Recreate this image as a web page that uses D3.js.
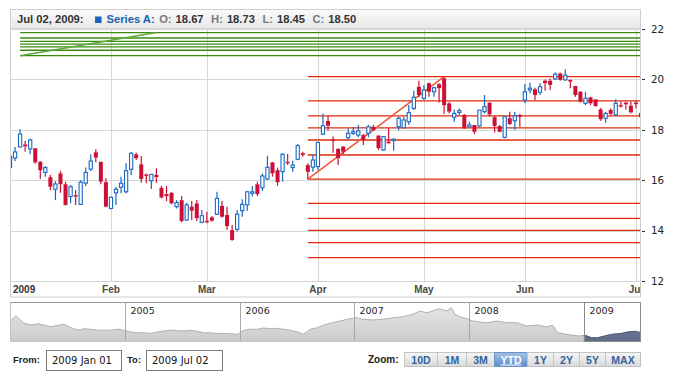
<!DOCTYPE html>
<html><head><meta charset="utf-8">
<script src="https://cdn.jsdelivr.net/npm/d3@7/dist/d3.min.js"></script>
<style>body{margin:0;background:#fff}svg{display:block}</style>
</head><body>
<svg id="c" width="700" height="380"></svg>
<script>
// ---------- DATA ----------
const seriesName = "Series A";
const firstDay = "2009-01-01", lastDay = "2009-07-02";
const holidays = ["2009-01-01","2009-01-19","2009-02-16","2009-04-10","2009-05-25"];
const open  = [16.50,16.88,17.32,17.42,17.24,17.27,16.73,16.31,16.12,15.64,16.27,15.84,15.35,15.41,15.04,15.88,16.44,17.11,16.73,15.92,
  14.88,15.50,15.72,15.54,16.43,17.03,16.63,16.23,15.98,16.21,15.70,15.45,15.50,14.95,15.21,14.42,14.95,15.08,14.33,14.39,
  14.53,14.65,14.98,14.62,14.02,14.05,14.79,15.02,15.48,15.84,15.70,16.05,16.71,16.40,16.34,16.73,16.50,16.83,17.07,16.60,
  16.52,16.54,17.83,18.35,17.62,17.24,17.33,17.69,17.86,17.79,17.79,17.86,18.12,17.77,17.20,17.53,17.57,18.12,18.08,18.32,
  18.85,19.71,19.25,19.85,19.51,19.81,20.04,19.05,18.50,18.69,18.59,18.12,18.19,18.15,18.72,19.08,18.50,18.15,17.70,18.46,
  18.36,18.59,19.18,19.58,19.61,19.49,19.95,19.95,20.02,20.24,19.98,19.98,19.74,19.51,19.05,19.29,19.21,18.81,18.46,18.79,
  18.59,18.98,19.08,18.96,19.08,18.67];
const high  = [17.00,17.32,18.02,17.57,17.64,17.27,16.76,16.56,16.21,15.96,16.37,15.94,15.81,15.61,16.01,16.50,17.03,17.23,16.73,16.08,
  15.35,15.74,16.14,16.67,17.11,17.09,16.96,16.27,16.25,16.47,15.78,15.77,15.53,15.21,15.37,15.11,15.17,15.21,14.82,14.75,
  14.58,15.54,15.17,14.95,14.22,14.82,15.24,15.57,15.77,15.94,16.27,16.97,16.73,16.50,17.07,17.04,16.77,17.44,17.13,16.67,
  17.00,17.53,18.65,18.55,17.73,17.27,17.36,18.06,18.10,18.19,17.83,18.19,18.19,17.79,17.75,18.06,17.66,18.52,18.52,18.98,
  19.55,19.95,19.78,19.87,19.71,19.85,20.11,19.10,18.81,18.85,18.63,18.32,18.19,18.78,19.38,19.08,18.55,18.19,18.55,18.72,
  18.72,18.63,19.82,19.87,19.67,19.85,20.00,20.04,20.27,20.27,20.40,20.00,19.74,19.54,19.51,19.31,19.21,18.87,18.72,18.85,
  19.21,19.12,19.12,19.12,19.16,18.73];
const low   = [16.40,16.76,17.30,17.13,17.03,16.65,16.05,16.14,15.61,15.21,15.50,14.99,15.08,15.02,15.02,15.77,16.37,16.71,15.84,14.93,
  14.85,15.02,15.48,15.48,16.21,16.80,15.90,15.88,15.65,15.90,15.28,15.17,15.04,14.88,14.33,14.39,14.42,14.38,14.29,14.29,
  14.35,14.62,14.51,14.02,13.60,13.96,14.55,14.79,15.35,15.37,15.57,16.01,16.14,15.78,15.94,16.60,16.34,16.79,16.93,16.04,
  16.34,16.40,17.79,17.96,17.09,16.60,17.04,17.60,17.79,17.70,17.40,17.70,17.95,17.20,17.17,17.46,17.17,17.99,18.06,18.19,
  18.79,19.29,19.18,19.31,19.31,19.08,18.63,18.65,18.32,18.59,18.03,18.12,17.83,18.12,18.65,18.52,17.89,17.90,17.66,18.19,
  17.99,18.12,19.05,19.45,19.18,19.38,19.55,19.58,19.98,19.95,19.95,19.65,19.31,19.08,18.98,18.98,18.92,18.36,18.28,18.59,
  18.55,18.88,18.81,18.65,18.85,18.45];
const close = [16.95,17.12,17.83,17.34,17.60,16.71,16.40,16.50,15.74,15.85,15.84,15.02,15.74,15.37,15.92,16.31,16.76,16.89,15.94,14.95,
  15.32,15.64,15.88,16.38,17.07,16.87,16.05,16.18,16.23,16.12,15.31,15.37,15.08,15.11,14.38,15.02,14.79,14.49,14.59,14.33,
  14.39,15.28,14.55,14.18,13.63,14.65,15.04,15.54,15.54,15.45,16.17,16.51,16.27,15.92,17.03,16.67,16.60,17.37,17.00,16.33,
  16.80,17.50,18.16,18.16,17.57,16.87,17.13,17.86,17.92,17.96,17.60,18.12,17.99,17.27,17.73,17.46,17.63,18.46,18.39,18.68,
  19.29,19.38,19.58,19.51,19.67,19.65,18.98,18.72,18.65,18.76,18.06,18.19,17.92,18.78,18.92,18.61,18.15,17.92,18.52,18.23,
  18.55,18.52,19.51,19.65,19.38,19.71,19.85,19.78,20.21,19.98,20.17,19.91,19.38,19.12,19.25,19.05,18.94,18.42,18.65,18.63,
  19.05,18.92,19.01,18.69,19.02,18.50];
const monthLabels = ["2009","Feb","Mar","Apr","May","Jun","Jul"];
const yTicks = [12,14,16,18,20,22];
const fibLevels = [0,0.236,0.382,0.5,0.618,0.764,1,1.236,1.382,1.5,1.618,1.764];
const redFibDates = ["2009-03-30","2009-05-07"], redFibPrices = [16.04,20.11];
const greenFibDates = ["2009-01-06","2009-02-13"], greenFibPrices = [20.94,21.86];
const greenFibLevels = [0,0.236,0.382,0.5,0.618,0.764,1];
const scrollDates = ["2004-01-02","2004-01-20","2004-01-30","2004-02-14","2004-03-08","2004-03-30","2004-04-18","2004-05-11","2004-06-02","2004-06-21",
  "2004-07-13","2004-08-04","2004-08-24","2004-09-15","2004-10-07","2004-10-26","2004-11-17","2004-12-09","2004-12-28","2005-01-20",
  "2005-02-11","2005-03-02","2005-03-24","2005-04-15","2005-05-04","2005-05-26","2005-06-17","2005-07-07","2005-07-29","2005-08-20",
  "2005-09-08","2005-09-30","2005-10-23","2005-11-10","2005-12-03","2005-12-26","2006-01-14","2006-02-05","2006-02-27","2006-03-18",
  "2006-04-10","2006-05-02","2006-05-20","2006-06-12","2006-07-04","2006-07-23","2006-08-14","2006-09-05","2006-09-24","2006-10-16",
  "2006-11-17","2006-12-18","2007-01-10","2007-01-29","2007-03-01","2007-04-02","2007-05-04","2007-06-04","2007-07-07","2007-07-29",
  "2007-08-20","2007-09-08","2007-09-30","2007-10-23","2007-11-07","2007-11-17","2007-12-03","2007-12-26","2008-01-14","2008-02-05",
  "2008-02-27","2008-03-30","2008-05-01","2008-06-02","2008-07-03","2008-08-04","2008-09-05","2008-09-24","2008-10-10","2008-11-07",
  "2008-11-26","2008-12-18","2009-01-04","2009-01-26","2009-02-14","2009-03-08","2009-04-02","2009-05-01","2009-05-20","2009-06-12","2009-07-02"];
const scrollValues = [26.8,30.8,28.6,25.0,23.6,24.6,23.4,22.2,23.4,24.2,
  21.4,19.6,20.6,20.2,19.4,19.6,19.4,20.2,19.4,18.0,
  17.4,17.4,16.9,18.0,18.8,19.6,19.0,18.8,19.4,18.6,
  17.4,17.4,16.9,16.9,16.6,16.2,19.4,20.2,20.2,21.2,
  20.6,21.0,20.2,19.4,18.0,16.2,20.2,21.4,23.4,25.0,
  26.8,28.6,29.4,28.2,27.6,28.2,29.4,30.2,32.2,34.8,
  33.4,34.8,36.6,34.8,37.4,32.2,30.2,28.6,26.8,26.0,
  25.4,26.8,25.4,25.4,22.8,23.6,22.2,23.4,17.4,16.2,
  15.4,14.8,15.4,13.4,13.4,14.8,16.2,16.9,18.0,18.6,17.4];
const scrollYears = ["2005","2006","2007","2008","2009"];
const scrollStart = "2004-01-01";
const zoomButtons = ["10D","1M","3M","YTD","1Y","2Y","5Y","MAX"];
const selectedZoom = "YTD";

// ---------- HELPERS ----------
const parse = d3.utcParse("%Y-%m-%d");
function tradingDays(a, b, hol) {
  const hs = new Set(hol), out = [];
  for (let d = parse(a); d <= parse(b); d = d3.utcDay.offset(d, 1)) {
    const wd = d.getUTCDay(), s = d3.utcFormat("%Y-%m-%d")(d);
    if (wd !== 0 && wd !== 6 && !hs.has(s)) out.push(s);
  }
  return out;
}
const dates = tradingDays(firstDay, lastDay, holidays);
const idx = s => dates.indexOf(s);
const FONT = "'DejaVu Sans', Verdana, sans-serif";
const BFONT = "'Liberation Sans', Arial, sans-serif";

const svg = d3.select("#c");
const L = 10, R = 641, headTop = 10, headBot = 28, plotTop = 28, plotBot = 281, bandBot = 297;
const x = d3.scaleLinear().domain([0, dates.length - 1]).range([L, R]);
const y = d3.scaleLinear().domain([12, 22]).range([281, 29]);

const defs = svg.append("defs");
function grad(id, c1, c2) {
  const g = defs.append("linearGradient").attr("id", id).attr("x1", 0).attr("y1", 0).attr("x2", 0).attr("y2", 1);
  g.append("stop").attr("offset", "0%").attr("stop-color", c1);
  g.append("stop").attr("offset", "100%").attr("stop-color", c2);
}
grad("hdr", "#fbfbfb", "#e8e8e8");
grad("btn", "#f6f6f6", "#d9d9d9");
grad("btnSel", "#a4c2e8", "#5b8ccb");
grad("scr", "#e4e4e4", "#cbcbcb");
grad("scrSel", "#7a86a2", "#5f6b88");
defs.append("clipPath").attr("id", "plotClip").append("rect")
  .attr("x", L).attr("y", plotTop).attr("width", R - L).attr("height", plotBot - plotTop);
defs.append("clipPath").attr("id", "bandClip").append("rect")
  .attr("x", L).attr("y", plotBot).attr("width", R - L).attr("height", bandBot - plotBot);

// header
svg.append("rect").attr("x", L + 0.5).attr("y", headTop - 0.5).attr("width", R - L - 1).attr("height", headBot - headTop + 0.5)
  .attr("fill", "url(#hdr)");

// plot grid
const plot = svg.append("g").attr("clip-path", "url(#plotClip)");
const monthStarts = [0];
for (let i = 1; i < dates.length; i++) if (dates[i].slice(5, 7) !== dates[i - 1].slice(5, 7)) monthStarts.push(i);
plot.selectAll(".hg").data(yTicks).join("line")
  .attr("x1", L).attr("x2", R).attr("y1", d => Math.round(y(d)) + 0.5).attr("y2", d => Math.round(y(d)) + 0.5)
  .attr("stroke", "#d5d9d5");
plot.selectAll(".vg").data(monthStarts.slice(1)).join("line")
  .attr("x1", d => Math.round(x(d)) + 0.5).attr("x2", d => Math.round(x(d)) + 0.5)
  .attr("y1", plotTop).attr("y2", plotBot).attr("stroke", "#d5d9d5");

// fibonacci drawings
function fib(g, dts, prices, levels, color, diagColor) {
  const i0 = idx(dts[0]), i1 = idx(dts[1]);
  const pA = prices[0], pB = prices[1];
  g.selectAll(null).data(levels).join("line")
    .attr("x1", x(i0)).attr("x2", R)
    .attr("y1", d => y(pB - d * (pB - pA))).attr("y2", d => y(pB - d * (pB - pA)))
    .attr("stroke", color).attr("stroke-width", 1.3);
  g.append("line").attr("x1", x(i0)).attr("y1", y(pA)).attr("x2", x(i1)).attr("y2", y(pB))
    .attr("stroke", diagColor).attr("stroke-width", 1.6);
}
fib(plot.append("g"), greenFibDates, greenFibPrices, greenFibLevels, "#3a8a10", "#5ea83a");
fib(plot.append("g"), redFibDates, redFibPrices, fibLevels, "#e02a0a", "#ee5a3c");

// candles
const rise = "#1a67c2", fall = "#cc1035";
const cd = dates.map((d, i) => ({i, o: open[i], h: high[i], l: low[i], c: close[i]}));
const cg = plot.append("g");
cd.forEach(d => {
  const up = d.c >= d.o, col = up ? rise : fall;
  const top = y(Math.max(d.o, d.c)), bot = y(Math.min(d.o, d.c));
  const cx = x(d.i);
  cg.append("line").attr("x1", cx).attr("x2", cx).attr("y1", y(d.h)).attr("y2", top).attr("stroke", col).attr("stroke-width", 1.2);
  cg.append("line").attr("x1", cx).attr("x2", cx).attr("y1", bot).attr("y2", y(d.l)).attr("stroke", col).attr("stroke-width", 1.2);
  const bh = Math.max(1.5, bot - top);
  if (up) cg.append("rect").attr("x", cx - 1.6).attr("y", top).attr("width", 3.2).attr("height", bh)
    .attr("fill", "#fff").attr("stroke", col).attr("stroke-width", 1.1);
  else cg.append("rect").attr("x", cx - 2).attr("y", top).attr("width", 4).attr("height", bh).attr("fill", col);
});

// frame lines
svg.append("rect").attr("x", L + 0.5).attr("y", headTop - 0.5).attr("width", R - L - 1).attr("height", bandBot - headTop + 0.5)
  .attr("fill", "none").attr("stroke", "#cfcfcf");
svg.append("line").attr("x1", L).attr("x2", R).attr("y1", headBot + 0.5).attr("y2", headBot + 0.5).attr("stroke", "#d3d3d3");
svg.append("line").attr("x1", L).attr("x2", R).attr("y1", plotBot + 0.5).attr("y2", plotBot + 0.5).attr("stroke", "#d3d3d3");

// y axis (right)
const ya = svg.append("g");
ya.selectAll("line").data(yTicks).join("line")
  .attr("x1", R + 1).attr("x2", R + 4).attr("y1", d => Math.round(y(d)) + 0.5).attr("y2", d => Math.round(y(d)) + 0.5)
  .attr("stroke", "#333");
ya.selectAll("text").data(yTicks).join("text")
  .attr("x", R + 10).attr("y", d => y(d)).attr("dy", "0.36em")
  .attr("font-family", FONT).attr("font-size", "10.3px").attr("fill", "#222").text(d => d);

// x axis band labels
const xb = svg.append("g").attr("clip-path", "url(#bandClip)");
xb.selectAll("text").data(monthStarts).join("text")
  .attr("x", (d, k) => k === 0 ? L + 3 : x(d)).attr("y", 293)
  .attr("text-anchor", (d, k) => k === 0 ? "start" : "middle")
  .attr("font-family", BFONT).attr("font-weight", "bold").attr("font-size", "10px")
  .attr("fill", (d, k) => k === 0 ? "#333" : "#4a4a44").text((d, k) => monthLabels[k]);

// header legend (laid out left to right by measured widths)
const last = dates.length - 1;
const fmtHead = d3.utcFormat("%b %d, %Y");
const hy = 22.5;
const ht = svg.append("g").attr("font-family", BFONT).attr("font-weight", "bold").attr("font-size", "11.2px");
let hx = 17;
function put(txt, col, gap) {
  const t = ht.append("text").attr("x", hx).attr("y", hy).attr("fill", col).text(txt);
  hx += t.node().getComputedTextLength() + gap;
}
put(fmtHead(parse(dates[last])) + ":", "#333", 11.5);
ht.append("rect").attr("x", hx).attr("y", 16.5).attr("width", 6.5).attr("height", 6.5).attr("fill", "#1d5fbf");
hx += 6.5 + 5;
put(seriesName + ":", "#1d5fb3", 4.5);
[["O:", open[last]], ["H:", high[last]], ["L:", low[last]], ["C:", close[last]]].forEach(([lab, v]) => {
  put(lab, "#7a7a7a", 4);
  put(v.toFixed(2), "#333", 7.5);
});

// scroller
const sTop = 302, sBot = 342;
const sx = d3.scaleTime().domain([parse(scrollStart), parse(lastDay)]).range([L, R]);
const sy = d3.scaleLinear().domain([10, 42]).range([sBot, sTop]);
const sdata = scrollDates.map((d, i) => ({d: parse(d), v: scrollValues[i]}));
const area = d3.area().x(d => sx(d.d)).y0(sBot).y1(d => sy(d.v));
const lineG = d3.line().x(d => sx(d.d)).y(d => sy(d.v));
svg.append("rect").attr("x", L).attr("y", sTop).attr("width", R - L).attr("height", sBot - sTop).attr("fill", "#fff");
svg.append("path").datum(sdata).attr("d", area).attr("fill", "url(#scr)");
svg.append("path").datum(sdata).attr("d", lineG).attr("fill", "none").attr("stroke", "#b0b0b0").attr("stroke-width", 1);
const selX0 = sx(parse(firstDay)), selX1 = R;
defs.append("clipPath").attr("id", "selClip").append("rect")
  .attr("x", selX0).attr("y", sTop).attr("width", selX1 - selX0).attr("height", sBot - sTop);
const sel = svg.append("g").attr("clip-path", "url(#selClip)");
sel.append("path").datum(sdata).attr("d", area).attr("fill", "url(#scrSel)");
sel.append("path").datum(sdata).attr("d", lineG).attr("fill", "none").attr("stroke", "#4e5873").attr("stroke-width", 1);
scrollYears.forEach(yr => {
  const xx = Math.round(sx(parse(yr + "-01-01"))) + 0.5;
  svg.append("line").attr("x1", xx).attr("x2", xx).attr("y1", sTop).attr("y2", sBot).attr("stroke", "#a8a8a8");
  svg.append("text").attr("x", xx + 5).attr("y", 314).attr("font-family", FONT).attr("font-size", "9.5px")
    .attr("fill", "#222").text(yr);
});
svg.append("rect").attr("x", L + 0.5).attr("y", sTop + 0.5).attr("width", R - L - 1).attr("height", sBot - sTop - 1)
  .attr("fill", "none").attr("stroke", "#c4c4c4");
svg.append("line").attr("x1", L).attr("x2", R).attr("y1", sTop + 0.5).attr("y2", sTop + 0.5).attr("stroke", "#9a9a9a");
svg.append("rect").attr("x", Math.round(selX0) + 0.5).attr("y", sTop + 0.5).attr("width", R - Math.round(selX0) - 1)
  .attr("height", sBot - sTop - 1).attr("fill", "none").attr("stroke", "#8a8a8a");

// bottom controls
const fmtIn = d3.utcFormat("%Y %b %d");
const bc = svg.append("g");
bc.append("text").attr("x", 13).attr("y", 363).attr("font-family", BFONT).attr("font-weight", "bold").attr("font-size", "9.5px")
  .attr("fill", "#222").text("From:");
bc.append("rect").attr("x", 46.5).attr("y", 350.5).attr("width", 75).attr("height", 20).attr("fill", "#fff").attr("stroke", "#7a7a7a");
bc.append("text").attr("x", 52).attr("y", 364).attr("font-family", FONT).attr("font-size", "10px").attr("fill", "#111")
  .text(fmtIn(parse(firstDay)));
bc.append("text").attr("x", 127).attr("y", 363).attr("font-family", BFONT).attr("font-weight", "bold").attr("font-size", "9.5px")
  .attr("fill", "#222").text("To:");
bc.append("rect").attr("x", 146.5).attr("y", 350.5).attr("width", 76).attr("height", 20).attr("fill", "#fff").attr("stroke", "#7a7a7a");
bc.append("text").attr("x", 152).attr("y", 364).attr("font-family", FONT).attr("font-size", "10px").attr("fill", "#111")
  .text(fmtIn(parse(lastDay)));
bc.append("text").attr("x", 368).attr("y", 363).attr("font-family", BFONT).attr("font-weight", "bold").attr("font-size", "10px")
  .attr("fill", "#222").text("Zoom:");
const bEdges = [404, 437, 466, 494, 527, 553, 579, 605, 640];
zoomButtons.forEach((b, k) => {
  const x0 = bEdges[k], x1 = bEdges[k + 1], s = b === selectedZoom;
  bc.append("rect").attr("x", x0 + 0.5).attr("y", 352.5).attr("width", x1 - x0).attr("height", 14)
    .attr("fill", s ? "url(#btnSel)" : "url(#btn)").attr("stroke", s ? "#6f92c2" : "#c2c2c2");
  bc.append("text").attr("x", (x0 + x1) / 2 + 0.5).attr("y", 363.5).attr("text-anchor", "middle")
    .attr("font-family", BFONT).attr("font-weight", "bold").attr("font-size", "10.5px")
    .attr("fill", s ? "#fff" : "#31629f").attr("text-decoration", s ? "underline" : null).text(b);
});
</script>
</body></html>
